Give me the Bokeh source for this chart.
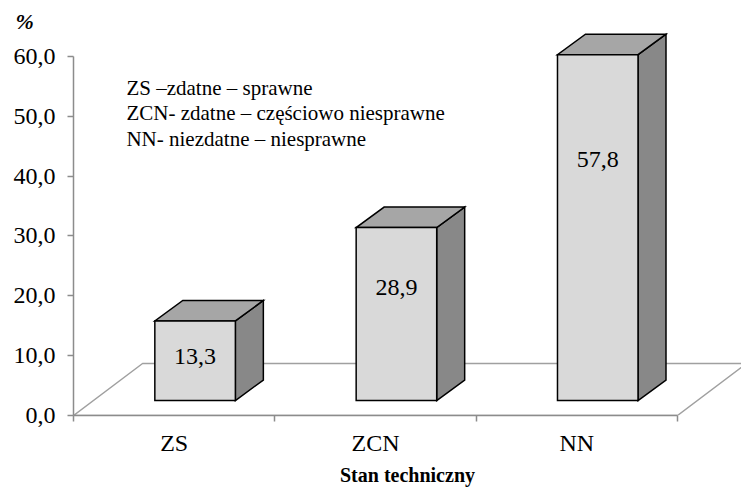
from bokeh.plotting import figure
from bokeh.models import Range1d, FixedTicker, ColumnDataSource, Label
from bokeh.embed import file_html
from bokeh.resources import INLINE
from bokeh.core.properties import value

# ---- data ----
categories = ["ZS", "ZCN", "NN"]
values = [13.3, 28.9, 57.8]
value_labels = ["13,3", "28,9", "57,8"]
y_ticks = [0, 10, 20, 30, 40, 50, 60]
y_tick_labels = ["0,0", "10,0", "20,0", "30,0", "40,0", "50,0", "60,0"]
legend_lines = [
    "ZS \u2013zdatne \u2013 sprawne",
    "ZCN- zdatne \u2013 cz\u0119\u015bciowo niesprawne",
    "NN- niezdatne \u2013 niesprawne",
]
x_title = "Stan techniczny"
y_title = "%"

# ---- layout constants (pseudo-3D geometry) ----
FONT = "Liberation Serif"
BASE = 2.5
BAR_W = 0.40
SHIFT = 0.104
DX, DY = 0.139, 3.43
FDX, FDY = 0.343, 8.69
n = len(categories)

p = figure(width=741, height=490, x_range=Range1d(0, 3.318), y_range=Range1d(0, 64.01),
           output_backend="svg", toolbar_location=None,
           min_border_left=73, min_border_right=0, min_border_top=32, min_border_bottom=75,
           title=y_title)
p.outline_line_color = None
p.xgrid.visible = False
p.ygrid.visible = False
p.title.text_font = FONT
p.title.text_font_size = "22px"
p.title.text_font_style = "bold italic"
p.title.text_color = "black"
p.title.align = "left"
p.title.offset = -58
p.title.standoff = -2

# floor
p.patch([0, n, n + FDX, FDX], [0, 0, FDY, FDY], fill_color=None,
        line_color="#a0a0a0", line_width=1.5)

# bars (front, top and side faces)
lefts = [i + 0.5 + SHIFT - BAR_W / 2 for i in range(n)]
rights = [l + BAR_W for l in lefts]
tops = [BASE + v for v in values]
top_xs = [[l, r, r + DX, l + DX] for l, r in zip(lefts, rights)]
top_ys = [[t, t, t + DY, t + DY] for t in tops]
side_xs = [[r, r + DX, r + DX, r] for r in rights]
side_ys = [[BASE, BASE + DY, t + DY, t] for t in tops]

p.patches(side_xs, side_ys, fill_color="#888888", line_color="black", line_width=1.5,
          line_join="miter")
p.patches(top_xs, top_ys, fill_color="#a6a6a6", line_color="black", line_width=1.5,
          line_join="miter")
p.quad(left=lefts, right=rights, bottom=BASE, top=tops, fill_color="#d9d9d9",
       line_color="black", line_width=1.5, line_join="miter")

# value labels
for x, v, t in zip([(l + r) / 2 for l, r in zip(lefts, rights)], values, value_labels):
    p.add_layout(Label(x=x, y=0.74 * v, text=t, text_font=FONT, text_font_size="24px",
                       text_align="center", text_baseline="middle", text_color="black"))

# legend text block
for i, line in enumerate(legend_lines):
    p.add_layout(Label(x=0.263, y=54.8 - 4.3 * i, text=line, text_font=FONT,
                       text_font_size="21px", text_align="left",
                       text_baseline="alphabetic", text_color="black"))

# y axis
ya = p.yaxis[0]
ya.ticker = FixedTicker(ticks=y_ticks, minor_ticks=[])
ya.major_label_overrides = {t: s for t, s in zip(y_ticks, y_tick_labels)}
ya.bounds = (0, 60)
ya.axis_line_color = "#8c8c8c"
ya.axis_line_width = 1.5
ya.major_tick_line_color = "#8c8c8c"
ya.major_tick_line_width = 1.5
ya.major_tick_out = 6
ya.major_tick_in = 0
ya.minor_tick_line_color = None
ya.major_label_standoff = 12
ya.major_label_text_font = FONT
ya.major_label_text_font_size = "24px"
ya.major_label_text_color = "black"

# x axis
xa = p.xaxis[0]
xa.ticker = FixedTicker(ticks=[i + 0.5 for i in range(n)], minor_ticks=list(range(n + 1)))
xa.major_label_overrides = {i + 0.5: c for i, c in enumerate(categories)}
xa.bounds = (0, n)
xa.axis_line_color = "#8c8c8c"
xa.axis_line_width = 1.5
xa.major_tick_line_color = None
xa.major_tick_out = 0
xa.major_tick_in = 0
xa.minor_tick_line_color = "#8c8c8c"
xa.minor_tick_line_width = 1.5
xa.minor_tick_out = 6
xa.minor_tick_in = 0
xa.major_label_standoff = 8
xa.major_label_text_font = FONT
xa.major_label_text_font_size = "24px"
xa.major_label_text_color = "black"
xa.axis_label = x_title
xa.axis_label_text_font = FONT
xa.axis_label_text_font_size = "20px"
xa.axis_label_text_font_style = "bold"
xa.axis_label_text_color = "black"
xa.axis_label_standoff = 5

open("out.html", "w").write(file_html(p, INLINE))
